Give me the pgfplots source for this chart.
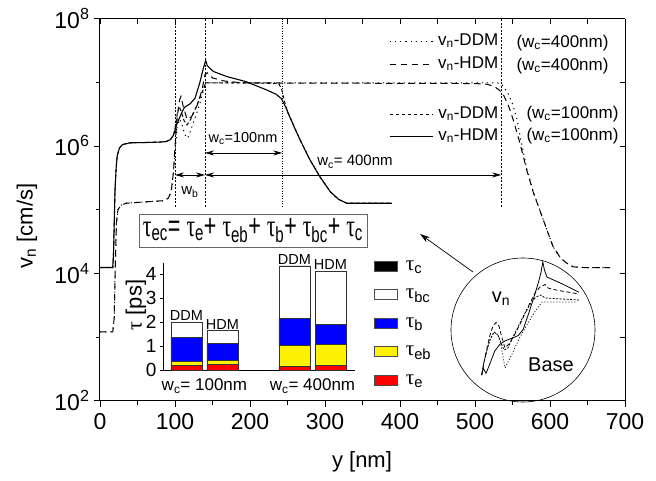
\documentclass[border=0pt]{standalone}
\usepackage{pgfplots}
\pgfplotsset{compat=1.18}
\usepackage{fontspec}
\setmainfont{Liberation Sans}
\newfontfamily\symf{Liberation Serif}
\usetikzlibrary{arrows.meta}
\newcommand{\fs}[1]{\fontsize{#1}{#1}\selectfont}
\newcommand{\sub}[1]{\textsubscript{#1}}
\newcommand{\tu}{{\symf τ}}
\begin{document}
\begin{tikzpicture}
\useasboundingbox (-100pt,-80.4pt) rectangle (556pt,400.6pt);
% ---------- main axis 1 (100 nm curves), bottom/left ticks ----------
\begin{axis}[
  at={(0pt,0pt)}, anchor=south west,
  scale only axis, width=525pt, height=382pt,
  xmin=0, xmax=700, ymin=1e2, ymax=1e8, ymode=log,
  axis x line*=bottom, axis y line*=left,
  axis line style={-, line width=1pt},
  tick align=outside,
  xtick={0,100,...,700}, minor xtick={50,150,...,650},
  ytick={1e2,1e4,1e6,1e8}, minor ytick={1e3,1e5,1e7},
  yticklabels={10\textsuperscript{2},10\textsuperscript{4},10\textsuperscript{6},10\textsuperscript{8}},
  major tick length=6pt, minor tick length=4pt,
  every tick/.style={black, line width=0.8pt},
  tick label style={font=\fs{23}},
  xticklabel style={yshift=-3pt},
  yticklabel style={xshift=-1pt},
  /pgf/number format/assume math mode=true,
  clip=false,
  legend style={draw=none, fill=none, font=\fs{17}, inner sep=0pt,
    at={(0.5505,0.771)}, anchor=north west, row sep=6pt,
    nodes={inner sep=0pt, text height=12pt, text depth=4pt},
    /tikz/every odd column/.append style={column sep=5pt}},
  legend cell align=left,
  legend image code/.code={\draw[#1] (0pt,0pt) -- (43pt,0pt);},
]
% DDM 100 nm (short dashes)
\addplot[line width=1pt, dash pattern=on 3.5pt off 2.5pt] coordinates {
(0,1.23e4) (17,1.23e4) (18,2.0e4) (19,6.3e4) (20,2.0e5) (21.5,4.47e5) (23,7.08e5)
(26,9.33e5) (30,1.05e6) (40,1.12e6) (60,1.13e6) (80,1.15e6) (88,1.17e6) (94,1.26e6)
(98,1.48e6) (100,1.9e6) (103,3.16e6) (105.5,4.17e6) (108,3.55e6) (112,2.51e6)
(116,2.14e6) (121,2.63e6) (127,3.80e6) (133,5.62e6) (138,7.94e6) (141,9.77e6)
(200,9.77e6) (238,9.55e6) (242,7.94e6) (246,5.01e6) (250,3.39e6) (253,2.88e6)
(260,1.86e6) (267,1.23e6) (280,6.03e5) (293,3.31e5) (307,1.91e5) (318,1.45e5)
(329,1.26e5) (389,1.26e5)};
% HDM 100 nm (solid)
\addplot[line width=1.1pt] coordinates {
(0,1.23e4) (17,1.23e4) (18,2.0e4) (19,6.3e4) (20,2.0e5) (21.5,4.47e5) (23,7.08e5)
(26,9.33e5) (30,1.05e6) (40,1.12e6) (60,1.13e6) (80,1.15e6) (88,1.17e6) (94,1.26e6)
(98,1.48e6) (100,1.78e6) (103,2.29e6) (106.7,2.88e6) (110,3.55e6) (113,4.07e6)
(120,4.57e6) (126.7,5.62e6) (133,9.77e6) (137.8,1.66e7) (141,2.19e7) (143,1.82e7)
(151,1.48e7) (169,1.23e7) (195,1.02e7) (222,7.59e6) (235,6.46e6) (242,5.50e6)
(248,3.98e6) (253,2.88e6) (260,1.86e6) (267,1.23e6) (280,6.03e5) (293,3.31e5)
(307,1.91e5) (318,1.45e5) (329,1.26e5) (389,1.26e5)};
\legend{v\sub{n}-DDM, v\sub{n}-HDM}
% vertical guide lines
\draw[line width=0.6pt, dash pattern=on 2pt off 1.5pt] (axis cs:100,1.1e5) -- (axis cs:100,1e8);
\draw[line width=0.6pt, dash pattern=on 2pt off 1.5pt] (axis cs:140,1.1e5) -- (axis cs:140,1e8);
\draw[line width=0.6pt, dash pattern=on 1pt off 1.5pt] (axis cs:243,1.1e5) -- (axis cs:243,1e8);
\draw[line width=0.6pt, dash pattern=on 2pt off 1.5pt] (axis cs:535,1.1e5) -- (axis cs:535,1e8);
% arrows
\draw[line width=0.7pt, {Stealth[length=9pt,width=5pt]}-{Stealth[length=9pt,width=5pt]}] (axis cs:100,3.5e5) -- (axis cs:140,3.5e5);
\draw[line width=0.7pt, {Stealth[length=9pt,width=5pt]}-{Stealth[length=9pt,width=5pt]}] (axis cs:140,7.76e5) -- (axis cs:243,7.76e5);
\draw[line width=0.7pt, {Stealth[length=9pt,width=5pt]}-{Stealth[length=9pt,width=5pt]}] (axis cs:140,3.5e5) -- (axis cs:535,3.5e5);
\node[font=\fs{15}] at (axis cs:120,1.89e5) {w\sub{b}};
\node[font=\fs{14.5}] at (axis cs:190.7,1.29e6) {w\sub{c}=100nm};
\node[font=\fs{15}] at (axis cs:340,5.62e5) {w\sub{c}= 400nm};
\end{axis}
% ---------- main axis 2 (400 nm curves), top/right ticks ----------
\begin{axis}[
  at={(0pt,0pt)}, anchor=south west,
  scale only axis, width=525pt, height=382pt,
  xmin=0, xmax=700, ymin=1e2, ymax=1e8, ymode=log,
  axis x line*=top, axis y line*=right,
  axis line style={-, line width=1pt},
  tick align=inside,
  xtick={0,100,...,700}, minor xtick={50,150,...,650},
  ytick={1e2,1e4,1e6,1e8}, minor ytick={1e3,1e5,1e7},
  xticklabels={}, yticklabels={},
  major tick length=5pt, minor tick length=5pt,
  every tick/.style={black, line width=0.8pt},
  clip=false,
  legend style={draw=none, fill=none, font=\fs{17}, inner sep=0pt,
    at={(0.5505,0.962)}, anchor=north west, row sep=7pt,
    nodes={inner sep=0pt, text height=12pt, text depth=4pt},
    /tikz/every odd column/.append style={column sep=5pt}},
  legend cell align=left,
  legend image code/.code={\draw[#1] (0pt,0pt) -- (43pt,0pt);},
]
% DDM 400 nm (dotted)
\addplot[line width=1pt, dash pattern=on 1.2pt off 4pt] coordinates {
(0,1.20e3) (17,1.20e3) (19,2.0e3) (20.5,1.58e4) (22,6.31e4) (24,1.0e5) (28,1.17e5)
(35,1.26e5) (60,1.32e5) (85,1.38e5) (91,1.51e5) (95,1.91e5) (98,3.98e5)
(100,7.94e5) (103,2.0e6) (106,2.63e6) (109,2.24e6) (113,1.51e6) (117,1.32e6)
(122,1.91e6) (128,3.02e6) (134,5.01e6) (139,8.32e6) (142,9.77e6) (530,9.77e6)
(536,9.12e6) (544,6.76e6) (550,4.57e6) (556,2.63e6) (561,1.26e6) (569,4.37e5)
(578,1.86e5) (591,6.92e4) (604,2.63e4) (614,1.74e4) (622,1.45e4) (631,1.26e4)
(645,1.23e4) (680,1.23e4)};
% HDM 400 nm (dashed)
\addplot[line width=1pt, dash pattern=on 6.5pt off 4.5pt] coordinates {
(0,1.20e3) (17,1.20e3) (19,2.0e3) (20.5,1.58e4) (22,6.31e4) (24,1.0e5) (28,1.17e5)
(35,1.26e5) (60,1.32e5) (85,1.38e5) (91,1.51e5) (95,1.91e5) (98,3.98e5)
(100,1.0e6) (103,2.82e6) (106,5.25e6) (108,6.03e6) (111,4.17e6) (116,2.63e6)
(122,2.88e6) (130,4.47e6) (136,7.59e6) (140,1.32e7) (143,1.41e7) (150,1.17e7)
(165,1.05e7) (190,9.77e6) (500,9.55e6) (515,9.33e6) (525,8.71e6) (532,7.59e6)
(538,6.31e6) (545,4.17e6) (551,2.57e6) (560,1.10e6) (569,4.17e5) (578,1.82e5)
(591,6.92e4) (604,2.63e4) (614,1.74e4) (622,1.45e4) (631,1.26e4) (645,1.23e4)
(680,1.23e4)};
\legend{v\sub{n}-DDM, v\sub{n}-HDM}
\end{axis}
% ---------- bar inset ----------
\begin{axis}[
  at={(63pt,30.6pt)}, anchor=south west,
  scale only axis, width=192pt, height=107pt,
  xmin=-0.65, xmax=4.68, ymin=0, ymax=4.45,
  axis x line*=bottom, axis y line*=left,
  axis line style={-, line width=0.8pt},
  ybar stacked, bar width=31pt,
  xtick=\empty, ytick={0,1,2,3,4},
  tick align=outside, major tick length=3pt,
  every tick/.style={black, line width=0.6pt},
  tick label style={font=\fs{19}},
  /pgf/number format/assume math mode=true,
  clip=false,
  reverse legend,
  legend style={draw=none, fill=none, font=\fs{21}, inner sep=0pt,
    at={(1.099,1.067)}, anchor=north west, row sep=8.5pt,
    nodes={inner sep=0pt, text height=14pt, text depth=6pt},
    /tikz/every odd column/.append style={column sep=8pt}},
  legend cell align=left,
  legend image code/.code={\draw[#1,draw=black!70,line width=0.6pt] (0pt,-5pt) rectangle (23pt,5pt);},
]
\addplot[fill=red, draw=black!80, line width=0.6pt] coordinates {(0,0.20) (1,0.24) (3,0.15) (4,0.20)};
\addplot[fill=yellow, draw=black!80, line width=0.6pt] coordinates {(0,0.15) (1,0.15) (3,0.87) (4,0.86)};
\addplot[fill=blue, draw=black!80, line width=0.6pt] coordinates {(0,1.01) (1,0.72) (3,1.11) (4,0.85)};
\addplot[fill=white, draw=black!80, line width=0.6pt] coordinates {(0,0.62) (1,0.53) (3,2.19) (4,2.19)};
\addplot[fill=black, draw=black!80, line width=0.6pt] coordinates {(0,0.01) (1,0.01) (3,0.01) (4,0.01)};
\legend{\tu\sub{e}, \tu\sub{eb}, \tu\sub{b}, \tu\sub{bc}, \tu\sub{c}}
\node[font=\fs{14.5}, anchor=south, inner sep=1pt] at (axis cs:0,1.99) {DDM};
\node[font=\fs{14.5}, anchor=south, inner sep=1pt] at (axis cs:1,1.65) {HDM};
\node[font=\fs{14.5}, anchor=south, inner sep=1pt] at (axis cs:3,4.33) {DDM};
\node[font=\fs{14.5}, anchor=south, inner sep=1pt] at (axis cs:4,4.11) {HDM};
\node[font=\fs{17}, anchor=base] at ([yshift=-21pt]axis cs:0.5,0) {w\sub{c}= 100nm};
\node[font=\fs{17}, anchor=base] at ([yshift=-21pt]axis cs:3.5,0) {w\sub{c}= 400nm};
\end{axis}
% ---------- magnified base inset ----------
\begin{axis}[
  at={(340pt,-9.4pt)}, anchor=south west,
  scale only axis, width=160pt, height=160pt,
  xmin=440, xmax=600, ymin=-410, ymax=-250,
  hide axis, clip=false]
\addplot[line width=0.8pt] coordinates {
(481.7,-375) (483.3,-368.3) (486,-373.3) (489.6,-364.6) (494.7,-351.1) (499.7,-344.4)
(504.8,-341) (511.5,-338.3) (518.2,-335.6) (523.3,-329.2) (528.4,-314.1) (533.4,-298.9)
(538.5,-282.1) (541.1,-272) (542.8,-261.9) (544.5,-270.3) (546.9,-277) (562,-283.8)
(578.9,-292.2)};
\addplot[line width=0.8pt, dash pattern=on 4pt off 2.5pt] coordinates {
(481.7,-375) (484,-362) (487,-348) (490,-335) (493,-326) (496,-322.5) (499,-326)
(502,-338) (505,-348) (509,-344) (515,-334) (522,-320) (529,-305) (535,-293)
(540,-287) (545,-284.5) (548,-288) (556,-290) (579,-294)};
\addplot[line width=0.8pt, dash pattern=on 2pt off 1.5pt] coordinates {
(481.7,-375) (484,-362) (487,-350) (490,-340) (494,-332) (498,-335) (501,-343)
(504,-350) (508,-348) (513,-337) (519,-325) (525,-313) (531,-303) (536,-297)
(541,-295) (545,-298) (579,-300)};
\addplot[line width=0.8pt, dash pattern=on 1pt off 2pt] coordinates {
(481.7,-375) (484,-362) (487,-350) (490,-340) (494,-332) (498,-335) (501,-345)
(505,-368) (508,-362) (512,-354) (520,-337) (528,-323) (536,-310) (542,-302)
(577,-302)};
\end{axis}
% ---------- decorations ----------
\draw[line width=0.6pt] (423pt,70.6pt) circle (72pt);
\node[font=\fs{20}] at (401pt,101.6pt) {v\sub{n}};
\node[font=\fs{20}] at (451pt,35.6pt) {Base};
\draw[line width=0.7pt, -{Stealth[length=10pt,width=6pt]}] (373pt,128.6pt) -- (320pt,166.6pt);
\node[draw=black!60, line width=0.8pt, minimum width=228pt, minimum height=33pt, inner sep=0pt]
  at (153pt,170.1pt) {\resizebox*{220pt}{24pt}{\fs{22}\tu\sub{ec}= \tu\sub{e}+ \tu\sub{eb}+ \tu\sub{b}+ \tu\sub{bc}+ \tu\sub{c}}};
\node[font=\fs{17}, anchor=west] at (413pt,357.6pt) {(w\sub{c}=400nm)};
\node[font=\fs{17}, anchor=west] at (413pt,334.6pt) {(w\sub{c}=400nm)};
\node[font=\fs{17}, anchor=west] at (423pt,286.6pt) {(w\sub{c}=100nm)};
\node[font=\fs{17}, anchor=west] at (423pt,264.6pt) {(w\sub{c}=100nm)};
\node[font=\fs{22}, rotate=90] at (-73pt,174.6pt) {v\sub{n} [cm/s]};
\node[font=\fs{22}] at (262pt,-61.4pt) {y [nm]};
\node[font=\fs{22}, rotate=90] at (36pt,95.6pt) {\tu\ [ps]};
\end{tikzpicture}
\end{document}
